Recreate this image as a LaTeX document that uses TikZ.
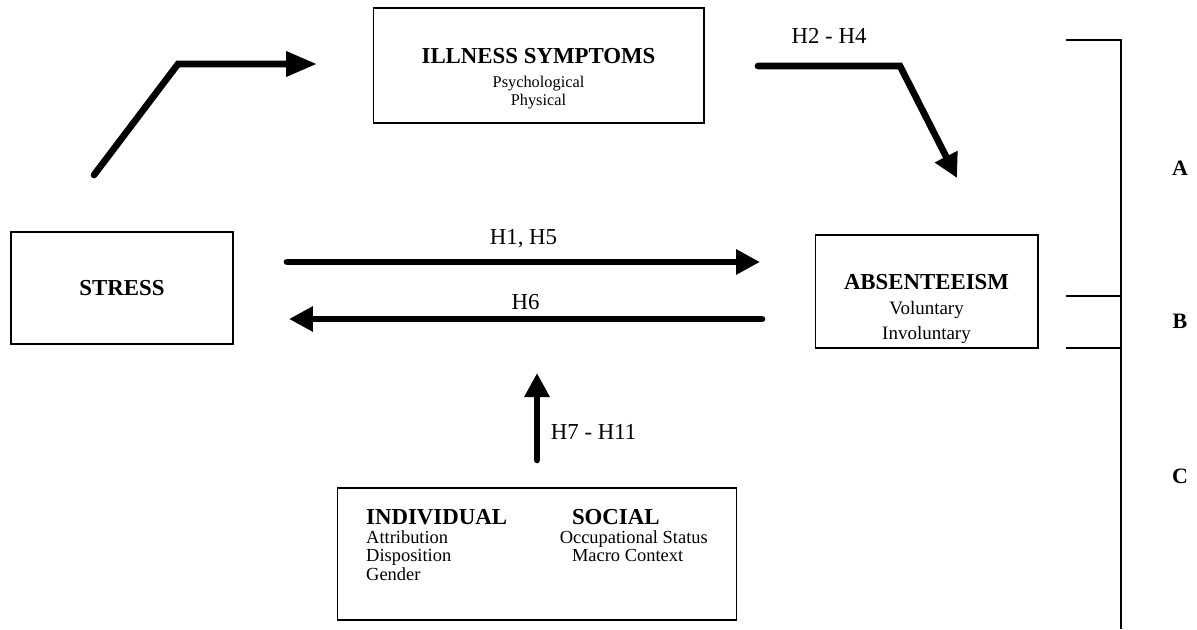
\documentclass[tikz,border=0pt]{standalone}
\usepackage{fontspec}
\setmainfont{Liberation Serif}
\usetikzlibrary{arrows.meta}
\newcommand{\constructtitle}{\fontsize{13}{15}\selectfont\bfseries}
\tikzset{
  % Construct boxes
  construct/.style={
    rectangle, draw=black, line width=0.6pt, inner sep=1pt,
    align=center, text=black,
  },
  % Thick hypothesis arrows
  pathway/.style={
    line width=3.8pt, line cap=round, draw=black,
    -{Triangle[length=0.48cm, width=0.48cm]}, #1
  },
  pathway/.default={},
  % Labels on arrows
  hyplabel/.style={font=\fontsize{13}{15}\selectfont, inner sep=0pt, text=black},
  % Right-hand bracket
  bracket/.style={line width=0.8pt, draw=black},
  partlabel/.style={font=\fontsize{12.5}{14}\selectfont\bfseries, text=black},
}
\begin{document}
\begin{tikzpicture}[x=0.02cm, y=-0.02cm]
  \useasboundingbox (0,0) rectangle (1197,629);

  % Constructs
  \node[construct, minimum width=4.44cm, minimum height=2.24cm] (stress) at (122,288)
    {{\constructtitle STRESS}};
  \node[construct, minimum width=6.62cm, minimum height=2.3cm,
        font=\fontsize{9.3}{10.4}\selectfont] (illness) at (538.5,65.5)
    {\rule{0pt}{24pt}{\constructtitle ILLNESS SYMPTOMS}\\[3pt]Psychological\\Physical};
  \node[construct, minimum width=4.46cm, minimum height=2.26cm,
        font=\fontsize{10.8}{14.2}\selectfont] (absence) at (926.5,291.5)
    {\rule{0pt}{29pt}{\constructtitle ABSENTEEISM}\\Voluntary\\Involuntary};
  \node[construct, minimum width=8cm, minimum height=2.64cm,
        font=\fontsize{10.5}{10.6}\selectfont] (factors) at (537,554) {%
    \begin{tabular}{@{}l@{\hspace{30pt}}l@{}}
      {\constructtitle INDIVIDUAL} & \hspace{7pt}{\constructtitle SOCIAL}\\
      Attribution & Occupational Status\\
      Disposition & \hspace{7pt}Macro Context\\
      Gender & \\[7pt]
    \end{tabular}};

  % Arrow ends
  \coordinate (stressout) at (94,175);
  \coordinate (stressbend) at (178,64);
  \coordinate (illnessin) at (317,64);
  \coordinate (illnessout) at (758,66);
  \coordinate (illnessbend) at (900,66);
  \coordinate (absencein) at (957,178);
  \coordinate (directfrom) at (287,262);
  \coordinate (directto) at (760,262);
  \coordinate (reversefrom) at (762,319);
  \coordinate (reverseto) at (289,319);
  \coordinate (modfrom) at (537,460);
  \coordinate (modto) at (537,373);

  % Arrows
  \draw[pathway={-{Triangle[length=0.62cm, width=0.48cm]}}]
    (stressout) -- (stressbend) -- (illnessin);
  \draw[pathway] (illnessout) -- (illnessbend)
    node[hyplabel, midway, above=11pt] {H2 - H4} -- (absencein);
  \draw[pathway] (directfrom) -- (directto) node[hyplabel, midway, above=6pt] {H1, H5};
  \draw[pathway] (reversefrom) -- (reverseto) node[hyplabel, midway, above=3.5pt] {H6};
  \draw[pathway] (modfrom) -- (modto) node[hyplabel, pos=0.32, right=6pt] {H7 - H11};

  % Bracket
  \draw[bracket] (1066,40) -- (1121,40) -- (1121,629);
  \draw[bracket] (1066,296) -- (1121,296);
  \draw[bracket] (1066,348) -- (1121,348);
  \node[partlabel] (partA) at (1180,168) {A};
  \node[partlabel] (partB) at (1180,321) {B};
  \node[partlabel] (partC) at (1180,476) {C};

\end{tikzpicture}
\end{document}
